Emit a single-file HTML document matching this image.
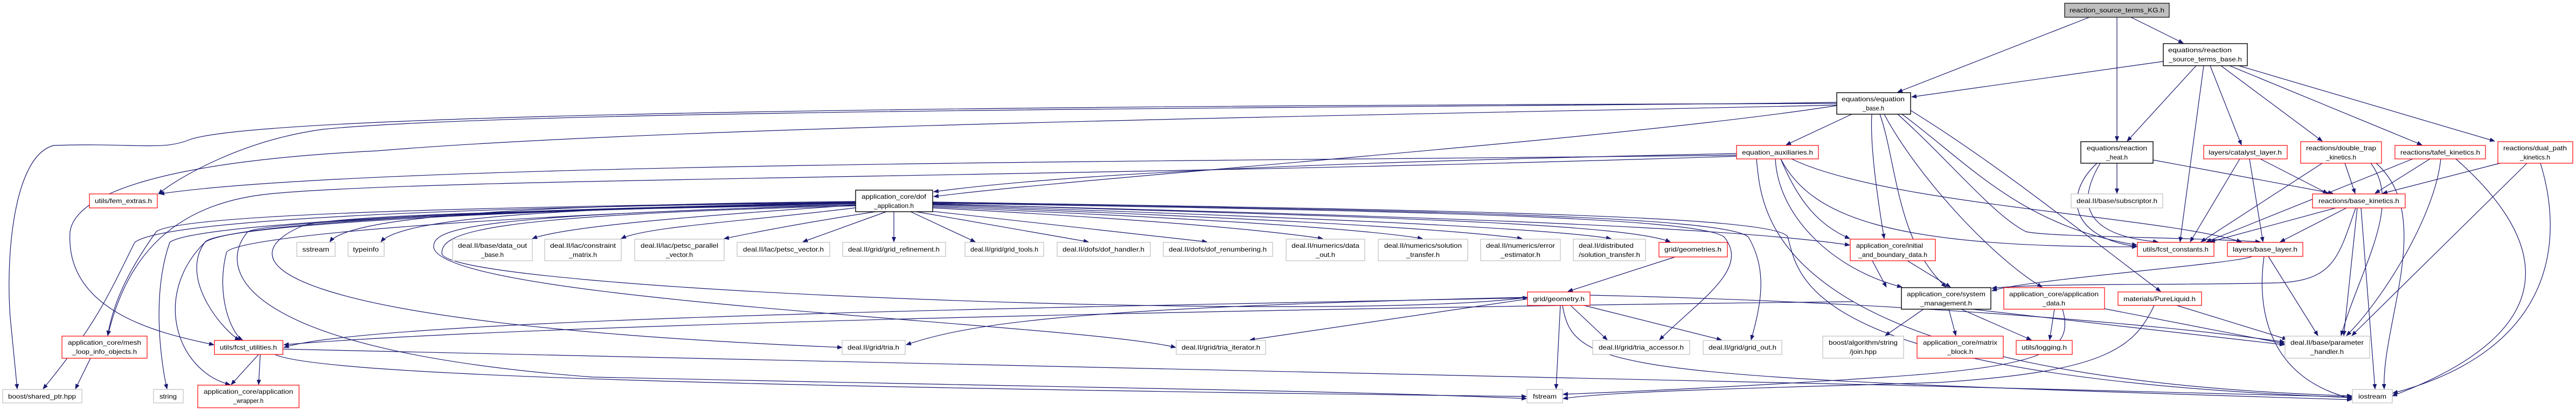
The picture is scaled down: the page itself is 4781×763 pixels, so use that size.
<!DOCTYPE html>
<html><head><meta charset="utf-8"><style>
html,body{margin:0;padding:0;background:#fff;}
svg{display:block;}
text{font-family:"Liberation Sans",sans-serif;font-size:12px;fill:#000;}
.e{fill:none;stroke:#191970;stroke-width:1.2;}
.n{fill:#fff;stroke:#bfbfbf;stroke-width:1.2;}
.r{fill:#fff;stroke:#ff0000;stroke-width:1.2;}
.b{fill:#fff;stroke:#000;stroke-width:1.4;}
</style></head><body>
<svg width="4781" height="763" viewBox="0 0 4781 763" xmlns="http://www.w3.org/2000/svg">
<defs><marker id="a" markerWidth="10" markerHeight="8" refX="9" refY="4" orient="auto" markerUnits="userSpaceOnUse"><path d="M0,0 L10,4 L0,8 z" fill="#191970"/></marker></defs>
<g class="e" marker-end="url(#a)">
<!-- from KG -->
<path d="M3878,32 L3522,171"/>
<path d="M3929,32 L3929,262"/>
<path d="M3955,32 L4052,80"/>
<!-- from rstb -->
<path d="M4015,114 L3548,180"/>
<path d="M4076,122 L3948,262"/>
<path d="M4090,122 L4046,449"/>
<path d="M4102,122 L4160,269"/>
<path d="M4122,122 L4310,262"/>
<path d="M4138,122 L4495,269"/>
<path d="M4155,122 L4630,262"/>
<!-- from eqbase -->
<path d="M3437,212 L3315,269"/>
<path d="M3474,212 C3470,280 3490,400 3497,443"/>
<path d="M3489,212 C3520,300 3520,450 3612,533"/>
<path d="M3497,212 C3560,330 3700,480 3790,533"/>
<path d="M3522,212 C3620,300 3700,400 3760,430 C3800,440 4050,440 4195,449"/>
<path d="M3530,212 C3650,300 3750,420 3966,455"/>
<path d="M3409,196 C3000,260 2000,330 1733,365"/>
<path d="M3409,190 C2800,200 1000,200 600,240 C450,260 330,330 294,360"/>
<path d="M3409,195 C2800,210 1300,230 700,280 C300,300 140,360 130,430 C120,580 300,620 397,640"/>
<path d="M3409,192 C2500,195 500,200 350,260 C300,280 250,265 100,270 C20,290 10,500 20,600 L32,722"/>
<path d="M3546,205 C3700,300 3850,420 4010,541"/>
<!-- from eqaux -->
<path d="M3225,285 C2500,300 2000,320 1733,356"/>
<path d="M3225,288 C2300,300 700,300 296,360"/>
<path d="M3225,290 C2000,330 800,330 500,360 C300,380 230,500 200,623"/>
<path d="M3305,295 C3340,380 3380,420 3433,443"/>
<path d="M3295,295 C3300,400 3400,500 3530,533"/>
<path d="M3305,295 C3360,400 3500,460 3966,458"/>
<path d="M3325,295 C3500,380 4000,400 4160,449"/>
<path d="M3260,295 C3270,400 3280,700 4365,735"/>
<!-- from rheat -->
<path d="M3929,303 L3929,359"/>
<path d="M3996,297 L4330,359"/>
<path d="M3892,303 C3830,360 3840,440 3966,458"/>
<path d="M3898,303 C3840,400 3900,440 4005,449"/>
<!-- catalyst -->
<path d="M4157,295 L4065,449"/>
<path d="M4175,295 L4200,449"/>
<path d="M4195,295 L4320,359"/>
<!-- dtrap -->
<path d="M4310,303 L4085,449"/>
<path d="M4352,303 L4371,359"/>
<path d="M4400,303 C4460,380 4380,500 4345,623"/>
<path d="M4410,303 C4520,400 4420,600 4425,722"/>
<!-- tafel -->
<path d="M4478,295 L4095,449"/>
<path d="M4510,295 L4408,359"/>
<path d="M4530,295 C4520,400 4420,560 4355,623"/>
<path d="M4558,295 C4700,420 4800,600 4440,735"/>
<!-- dual -->
<path d="M4640,303 L4422,359"/>
<path d="M4690,303 L4365,623"/>
<path d="M4715,303 C4760,450 4740,650 4441,730"/>
<!-- basekin -->
<path d="M4335,386 L4102,449"/>
<path d="M4355,386 L4232,449"/>
<path d="M4375,386 L4350,623"/>
<path d="M4382,386 L4408,722"/>
<path d="M4372,386 C4340,480 4330,520 4230,525 C4050,530 3800,525 3697,535"/>
<!-- baselayer -->
<path d="M4180,476 C4150,490 3750,520 3697,540"/>
<path d="M4210,476 L4302,623"/>
<path d="M4202,476 C4190,560 4200,700 4365,740"/>
<!-- initbd -->
<path d="M3475,484 L3501,533"/>
<path d="M3540,484 L3620,533"/>
<!-- sysmgmt -->
<path d="M3440,560 C2500,570 1000,600 527,640"/>
<path d="M3570,574 L3499,623"/>
<path d="M3617,574 L3630,623"/>
<path d="M3640,574 L3770,631"/>
<path d="M3660,574 L4240,640"/>
<!-- appdata -->
<path d="M3813,574 L3804,631"/>
<path d="M3900,572 L4240,638"/>
<path d="M3828,574 C3850,650 3800,680 3500,700 C3200,720 3000,728 2901,732"/>
<!-- pureliquid -->
<path d="M4040,567 L4245,630"/>
<path d="M3998,567 C3960,650 3900,690 3600,710 C3300,720 3000,725 2901,740"/>
<!-- fcstutil -->
<path d="M483,658 L480,714"/>
<path d="M480,658 L429,714"/>
<path d="M525,648 C1500,670 3000,700 4365,737"/>
<path d="M510,658 C600,700 1500,720 2833,736"/>
<!-- meshloop -->
<path d="M168,665 L140,722"/>
<!-- geometries -->
<path d="M3112,476 L2910,541"/>
<!-- geometry -->
<path d="M2835,553 C2000,570 700,590 527,645"/>
<path d="M2835,555 L2320,631"/>
<path d="M2915,567 L2983,631"/>
<path d="M2940,567 L3195,631"/>
<path d="M2896,567 L2888,722"/>
<path d="M2900,567 C2920,690 3000,700 4365,742"/>
<path d="M2951,548 C3500,560 4000,600 4240,635"/>
<path d="M2835,552 C2000,570 1800,600 1682,640"/>
<!-- dofapp -->
<path d="M1588,374 C1000,380 650,400 612,449"/>
<path d="M1588,376 C1100,385 750,400 707,449"/>
<path d="M1600,380 C1300,400 1050,420 988,443"/>
<path d="M1610,383 C1400,410 1200,420 1153,443"/>
<path d="M1625,393 C1450,420 1360,440 1344,443"/>
<path d="M1645,393 L1490,449"/>
<path d="M1659,393 L1659,449"/>
<path d="M1690,393 L1810,449"/>
<path d="M1700,393 L2020,449"/>
<path d="M1710,390 L2240,449"/>
<path d="M1731,386 C2000,400 2300,420 2455,443"/>
<path d="M1731,384 C2100,400 2500,420 2640,443"/>
<path d="M1731,382 C2200,400 2650,420 2825,443"/>
<path d="M1731,380 C2300,400 2850,420 2990,443"/>
<path d="M1731,378 C2400,400 3000,410 3100,449"/>
<path d="M1731,377 C2500,390 3150,400 3200,440 C3250,500 3150,560 3080,631"/>
<path d="M1731,376 C2600,390 3200,400 3245,440 C3280,500 3270,560 3250,631"/>
<path d="M1731,375 C2700,390 3300,400 3318,440 C3340,520 3350,700 4365,738"/>
<path d="M1731,379 C2600,400 3200,420 3433,455"/>
<path d="M1588,380 C1000,390 600,400 560,420 C420,480 480,600 1563,645"/>
<path d="M1588,378 C1000,390 500,410 460,430 C400,500 440,650 1100,700 C2000,720 2500,725 2833,740"/>
<path d="M1588,378 C900,390 400,420 380,450 C330,520 420,620 445,631"/>
<path d="M1588,380 C900,400 420,440 420,470 C400,550 430,620 450,631"/>
<path d="M1588,378 C800,390 420,420 380,450 C280,550 330,690 427,714"/>
<path d="M1588,377 C800,390 350,420 315,450 C280,550 300,680 310,722"/>
<path d="M1588,376 C800,385 300,410 250,450 C200,550 180,600 80,722"/>
<path d="M1588,375 C800,385 330,400 290,430 C240,500 210,560 200,623"/>
<path d="M1588,380 C900,400 800,420 805,460 C830,560 2000,600 2182,645"/>
<path d="M1588,382 C900,400 820,430 820,470 C820,540 2500,600 2835,552"/>
</g>
<!-- nodes -->
<g>
<rect x="3832" y="6" width="194" height="26" fill="#bfbfbf" stroke="#000" stroke-width="1.2"/>
<text x="3929" y="23" text-anchor="middle" textLength="176" lengthAdjust="spacingAndGlyphs">reaction_source_terms_KG.h</text>

<rect class="b" x="4015" y="81" width="156" height="41"/>
<text x="4024" y="97" textLength="118" lengthAdjust="spacingAndGlyphs">equations/reaction</text>
<text x="4093" y="114" text-anchor="middle" textLength="136" lengthAdjust="spacingAndGlyphs">_source_terms_base.h</text>

<rect class="b" x="3409" y="172" width="137" height="40"/>
<text x="3418" y="188" textLength="117" lengthAdjust="spacingAndGlyphs">equations/equation</text>
<text x="3477" y="205" text-anchor="middle" textLength="40" lengthAdjust="spacingAndGlyphs">_base.h</text>

<rect class="r" x="3223" y="270" width="152" height="25"/>
<text x="3299" y="287" text-anchor="middle" textLength="132" lengthAdjust="spacingAndGlyphs">equation_auxiliaries.h</text>

<rect class="b" x="3862" y="263" width="134" height="40"/>
<text x="3929" y="279" text-anchor="middle" textLength="112" lengthAdjust="spacingAndGlyphs">equations/reaction</text>
<text x="3929" y="296" text-anchor="middle" textLength="40" lengthAdjust="spacingAndGlyphs">_heat.h</text>

<rect class="r" x="4090" y="270" width="155" height="25"/>
<text x="4167" y="287" text-anchor="middle" textLength="136" lengthAdjust="spacingAndGlyphs">layers/catalyst_layer.h</text>

<rect class="r" x="4270" y="263" width="150" height="40"/>
<text x="4345" y="279" text-anchor="middle" textLength="130" lengthAdjust="spacingAndGlyphs">reactions/double_trap</text>
<text x="4345" y="296" text-anchor="middle" textLength="56" lengthAdjust="spacingAndGlyphs">_kinetics.h</text>

<rect class="r" x="4445" y="270" width="168" height="25"/>
<text x="4529" y="287" text-anchor="middle" textLength="148" lengthAdjust="spacingAndGlyphs">reactions/tafel_kinetics.h</text>

<rect class="r" x="4636" y="263" width="139" height="40"/>
<text x="4705" y="279" text-anchor="middle" textLength="118" lengthAdjust="spacingAndGlyphs">reactions/dual_path</text>
<text x="4705" y="296" text-anchor="middle" textLength="56" lengthAdjust="spacingAndGlyphs">_kinetics.h</text>

<rect class="n" x="3844" y="360" width="170" height="26"/>
<text x="3929" y="377" text-anchor="middle" textLength="150" lengthAdjust="spacingAndGlyphs">deal.II/base/subscriptor.h</text>

<rect class="r" x="4292" y="360" width="172" height="26"/>
<text x="4378" y="377" text-anchor="middle" textLength="150" lengthAdjust="spacingAndGlyphs">reactions/base_kinetics.h</text>

<rect class="r" x="166" y="360" width="126" height="26"/>
<text x="229" y="377" text-anchor="middle" textLength="106" lengthAdjust="spacingAndGlyphs">utils/fem_extras.h</text>

<rect class="b" x="1588" y="353" width="143" height="40"/>
<text x="1659" y="369" text-anchor="middle" textLength="120" lengthAdjust="spacingAndGlyphs">application_core/dof</text>
<text x="1659" y="386" text-anchor="middle" textLength="74" lengthAdjust="spacingAndGlyphs">_application.h</text>

<!-- row 450 -->
<rect class="n" x="551" y="450" width="71" height="26"/><text x="586" y="467" text-anchor="middle" textLength="50" lengthAdjust="spacingAndGlyphs">sstream</text>
<rect class="n" x="646" y="450" width="67" height="26"/><text x="679" y="467" text-anchor="middle" textLength="48" lengthAdjust="spacingAndGlyphs">typeinfo</text>
<rect class="n" x="840" y="444" width="148" height="40"/><text x="914" y="460" text-anchor="middle" textLength="128" lengthAdjust="spacingAndGlyphs">deal.II/base/data_out</text><text x="914" y="477" text-anchor="middle" textLength="42" lengthAdjust="spacingAndGlyphs">_base.h</text>
<rect class="n" x="1011" y="444" width="142" height="40"/><text x="1082" y="460" text-anchor="middle" textLength="122" lengthAdjust="spacingAndGlyphs">deal.II/lac/constraint</text><text x="1082" y="477" text-anchor="middle" textLength="52" lengthAdjust="spacingAndGlyphs">_matrix.h</text>
<rect class="n" x="1178" y="444" width="166" height="40"/><text x="1261" y="460" text-anchor="middle" textLength="144" lengthAdjust="spacingAndGlyphs">deal.II/lac/petsc_parallel</text><text x="1261" y="477" text-anchor="middle" textLength="50" lengthAdjust="spacingAndGlyphs">_vector.h</text>
<rect class="n" x="1368" y="450" width="172" height="26"/><text x="1454" y="467" text-anchor="middle" textLength="150" lengthAdjust="spacingAndGlyphs">deal.II/lac/petsc_vector.h</text>
<rect class="n" x="1564" y="450" width="191" height="26"/><text x="1659" y="467" text-anchor="middle" textLength="170" lengthAdjust="spacingAndGlyphs">deal.II/grid/grid_refinement.h</text>
<rect class="n" x="1791" y="450" width="146" height="26"/><text x="1864" y="467" text-anchor="middle" textLength="126" lengthAdjust="spacingAndGlyphs">deal.II/grid/grid_tools.h</text>
<rect class="n" x="1962" y="450" width="173" height="26"/><text x="2048" y="467" text-anchor="middle" textLength="152" lengthAdjust="spacingAndGlyphs">deal.II/dofs/dof_handler.h</text>
<rect class="n" x="2159" y="450" width="203" height="26"/><text x="2260" y="467" text-anchor="middle" textLength="182" lengthAdjust="spacingAndGlyphs">deal.II/dofs/dof_renumbering.h</text>
<rect class="n" x="2387" y="444" width="146" height="40"/><text x="2460" y="460" text-anchor="middle" textLength="126" lengthAdjust="spacingAndGlyphs">deal.II/numerics/data</text><text x="2460" y="477" text-anchor="middle" textLength="36" lengthAdjust="spacingAndGlyphs">_out.h</text>
<rect class="n" x="2558" y="444" width="166" height="40"/><text x="2641" y="460" text-anchor="middle" textLength="144" lengthAdjust="spacingAndGlyphs">deal.II/numerics/solution</text><text x="2641" y="477" text-anchor="middle" textLength="62" lengthAdjust="spacingAndGlyphs">_transfer.h</text>
<rect class="n" x="2748" y="444" width="148" height="40"/><text x="2822" y="460" text-anchor="middle" textLength="128" lengthAdjust="spacingAndGlyphs">deal.II/numerics/error</text><text x="2822" y="477" text-anchor="middle" textLength="74" lengthAdjust="spacingAndGlyphs">_estimator.h</text>
<rect class="n" x="2920" y="444" width="134" height="40"/><text x="2930" y="460" textLength="102" lengthAdjust="spacingAndGlyphs">deal.II/distributed</text><text x="2987" y="477" text-anchor="middle" textLength="114" lengthAdjust="spacingAndGlyphs">/solution_transfer.h</text>
<rect class="r" x="3079" y="450" width="127" height="27"/><text x="3142" y="467" text-anchor="middle" textLength="106" lengthAdjust="spacingAndGlyphs">grid/geometries.h</text>
<rect class="r" x="3434" y="444" width="158" height="40"/><text x="3445" y="460" textLength="124" lengthAdjust="spacingAndGlyphs">application_core/initial</text><text x="3513" y="477" text-anchor="middle" textLength="128" lengthAdjust="spacingAndGlyphs">_and_boundary_data.h</text>
<rect class="r" x="3967" y="450" width="142" height="26"/><text x="4038" y="467" text-anchor="middle" textLength="122" lengthAdjust="spacingAndGlyphs">utils/fcst_constants.h</text>
<rect class="r" x="4134" y="450" width="140" height="26"/><text x="4204" y="467" text-anchor="middle" textLength="120" lengthAdjust="spacingAndGlyphs">layers/base_layer.h</text>

<!-- row 540 -->
<rect class="r" x="2835" y="542" width="116" height="25"/><text x="2893" y="559" text-anchor="middle" textLength="96" lengthAdjust="spacingAndGlyphs">grid/geometry.h</text>
<rect class="b" x="3529" y="534" width="166" height="40"/><text x="3612" y="550" text-anchor="middle" textLength="146" lengthAdjust="spacingAndGlyphs">application_core/system</text><text x="3612" y="567" text-anchor="middle" textLength="96" lengthAdjust="spacingAndGlyphs">_management.h</text>
<rect class="r" x="3719" y="534" width="187" height="40"/><text x="3812" y="550" text-anchor="middle" textLength="166" lengthAdjust="spacingAndGlyphs">application_core/application</text><text x="3812" y="567" text-anchor="middle" textLength="42" lengthAdjust="spacingAndGlyphs">_data.h</text>
<rect class="r" x="3931" y="542" width="155" height="25"/><text x="4008" y="559" text-anchor="middle" textLength="134" lengthAdjust="spacingAndGlyphs">materials/PureLiquid.h</text>

<!-- row 630 -->
<rect class="r" x="115" y="624" width="158" height="41"/><text x="194" y="640" text-anchor="middle" textLength="136" lengthAdjust="spacingAndGlyphs">application_core/mesh</text><text x="194" y="657" text-anchor="middle" textLength="120" lengthAdjust="spacingAndGlyphs">_loop_info_objects.h</text>
<rect class="r" x="398" y="632" width="127" height="26"/><text x="461" y="649" text-anchor="middle" textLength="106" lengthAdjust="spacingAndGlyphs">utils/fcst_utilities.h</text>
<rect class="n" x="1563" y="632" width="117" height="26"/><text x="1621" y="649" text-anchor="middle" textLength="96" lengthAdjust="spacingAndGlyphs">deal.II/grid/tria.h</text>
<rect class="n" x="2183" y="632" width="166" height="26"/><text x="2266" y="649" text-anchor="middle" textLength="146" lengthAdjust="spacingAndGlyphs">deal.II/grid/tria_iterator.h</text>
<rect class="n" x="2956" y="632" width="180" height="26"/><text x="3046" y="649" text-anchor="middle" textLength="158" lengthAdjust="spacingAndGlyphs">deal.II/grid/tria_accessor.h</text>
<rect class="n" x="3161" y="632" width="146" height="26"/><text x="3234" y="649" text-anchor="middle" textLength="126" lengthAdjust="spacingAndGlyphs">deal.II/grid/grid_out.h</text>
<rect class="n" x="3383" y="624" width="150" height="41"/><text x="3458" y="640" text-anchor="middle" textLength="128" lengthAdjust="spacingAndGlyphs">boost/algorithm/string</text><text x="3458" y="657" text-anchor="middle" textLength="50" lengthAdjust="spacingAndGlyphs">/join.hpp</text>
<rect class="r" x="3558" y="624" width="160" height="41"/><text x="3638" y="640" text-anchor="middle" textLength="138" lengthAdjust="spacingAndGlyphs">application_core/matrix</text><text x="3638" y="657" text-anchor="middle" textLength="48" lengthAdjust="spacingAndGlyphs">_block.h</text>
<rect class="r" x="3742" y="632" width="104" height="26"/><text x="3794" y="649" text-anchor="middle" textLength="84" lengthAdjust="spacingAndGlyphs">utils/logging.h</text>
<rect class="n" x="4241" y="624" width="157" height="41"/><text x="4319" y="640" text-anchor="middle" textLength="136" lengthAdjust="spacingAndGlyphs">deal.II/base/parameter</text><text x="4319" y="657" text-anchor="middle" textLength="62" lengthAdjust="spacingAndGlyphs">_handler.h</text>

<!-- row 730 -->
<rect class="n" x="5" y="723" width="147" height="25"/><text x="78" y="740" text-anchor="middle" textLength="126" lengthAdjust="spacingAndGlyphs">boost/shared_ptr.hpp</text>
<rect class="n" x="285" y="723" width="55" height="25"/><text x="312" y="740" text-anchor="middle" textLength="32" lengthAdjust="spacingAndGlyphs">string</text>
<rect class="r" x="367" y="715" width="188" height="42"/><text x="461" y="731" text-anchor="middle" textLength="166" lengthAdjust="spacingAndGlyphs">application_core/application</text><text x="461" y="748" text-anchor="middle" textLength="56" lengthAdjust="spacingAndGlyphs">_wrapper.h</text>
<rect class="n" x="2834" y="723" width="66" height="25"/><text x="2867" y="740" text-anchor="middle" textLength="44" lengthAdjust="spacingAndGlyphs">fstream</text>
<rect class="n" x="4366" y="723" width="74" height="25"/><text x="4403" y="740" text-anchor="middle" textLength="52" lengthAdjust="spacingAndGlyphs">iostream</text>
</g>
</svg>
</body></html>
